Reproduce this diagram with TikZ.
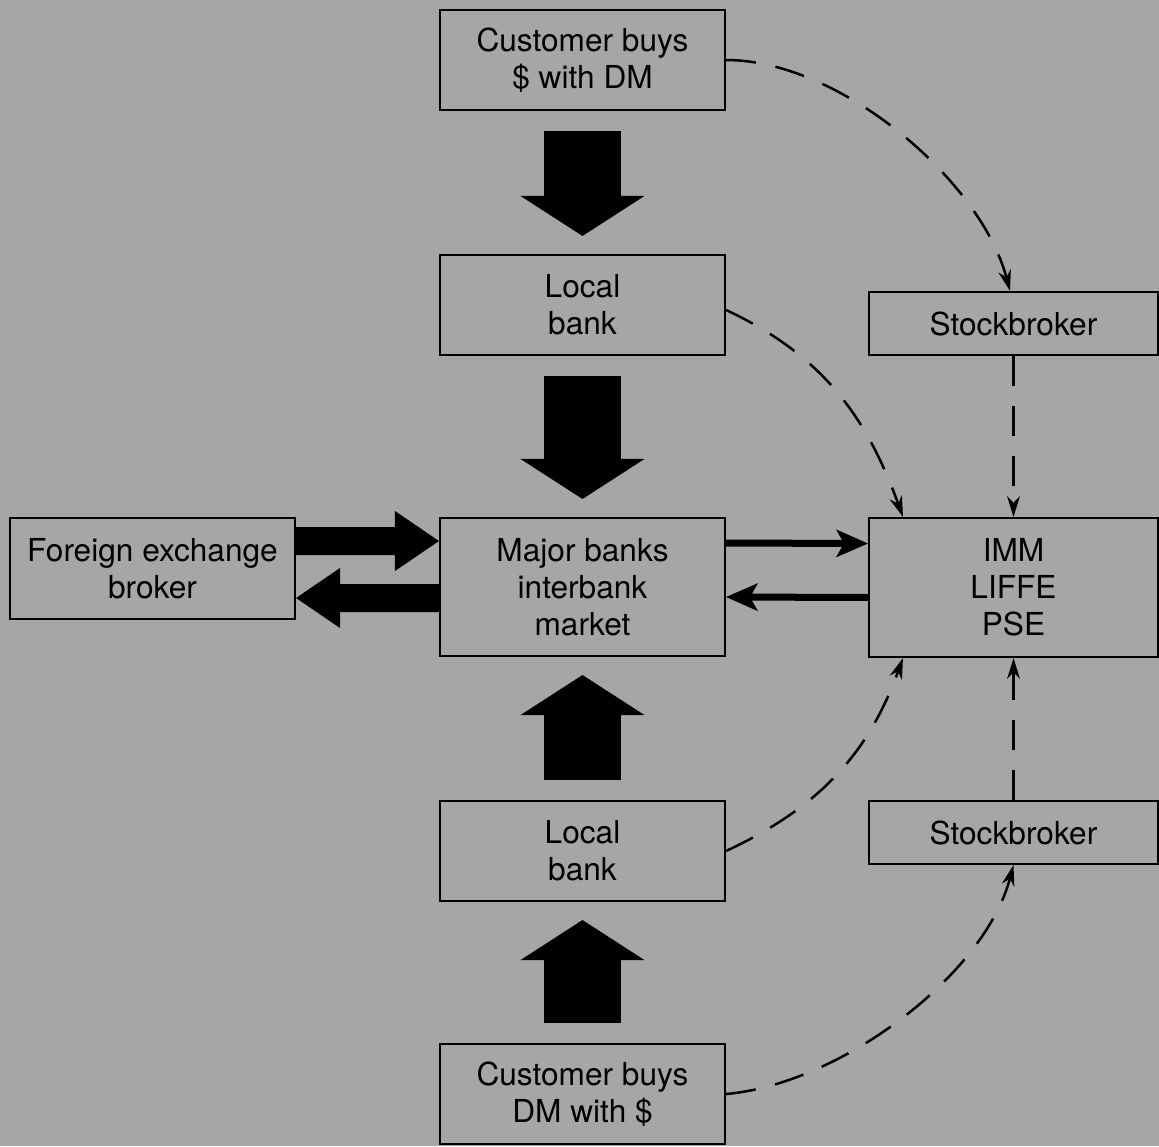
\documentclass[tikz,border=0pt]{standalone}
\usepackage{fontspec}
\setmainfont{TeX Gyre Heros}
\usepackage{tikz}
\usetikzlibrary{arrows.meta}

\begin{document}
\begin{tikzpicture}[
  x=0.02cm, y=-0.02cm,
  every node/.style={font=\fontsize{18}{21}\selectfont},
  box/.style={
    rectangle, draw, line width=1.2pt,
    align=center, inner sep=0pt,
    minimum width=5.7cm, minimum height=2cm
  },
  flatbox/.style={box, minimum width=5.78cm, minimum height=1.26cm},
  tallbox/.style={box, minimum height=2.76cm},
  fatarrow/.style={line width=1.54cm,
    -{Triangle[width=2.48cm, length=0.8cm, line width=0pt]},
    shorten <=0.4cm, shorten >=0.36cm},
  sidearrow/.style={line width=0.56cm,
    -{Triangle[width=1.2cm, length=0.88cm, line width=0pt]}},
  thinarrow/.style={line width=0.14cm,
    -{Stealth[width=0.56cm, length=0.64cm, inset=0.16cm, line width=0pt]}},
  feed/.style={line width=0.05cm, dash pattern=on 0.6cm off 0.4cm,
    -{Stealth[width=0.26cm, length=0.42cm, line width=0pt]}}
]
\path[use as bounding box, fill=black!35] (0,0) rectangle (1159,1146);

% middle column
\node[box] (cust1) at (582.5,60) {Customer buys\\ \$ with DM};
\node[box] (local1) at (582.5,305) {Local\\ bank};
\node[tallbox] (major) at (582.5,587) {Major banks\\ interbank\\ market};
\node[box] (local2) at (582.5,851) {Local\\ bank};
\node[box] (cust2) at (582.5,1094) {Customer buys\\ DM with \$};

% sides
\node[box, minimum height=2.02cm] (fxb) at (152.5,568.5) {Foreign exchange\\ broker};
\node[flatbox] (sb1) at (1013.5,323.5) {Stockbroker};
\node[box, minimum width=5.78cm, minimum height=2.78cm] (imm) at (1013.5,587.5) {IMM\\ LIFFE\\ PSE};
\node[flatbox] (sb2) at (1013.5,832.5) {Stockbroker};

\draw[fatarrow] (cust1) -- (local1);
\draw[fatarrow] (local1) -- (major);
\draw[fatarrow] (local2) -- (major);
\draw[fatarrow] (cust2) -- (local2);

\draw[sidearrow] ([yshift=0.55cm]fxb.east) -- ([yshift=0.92cm]major.west);
\draw[sidearrow] ([yshift=-0.22cm]major.west) -- ([yshift=-0.59cm]fxb.east);
\draw[thinarrow] ([yshift=0.88cm]major.east) -- ([yshift=0.88cm]imm.west);
\draw[thinarrow] ([yshift=-0.2cm]imm.west) -- ([yshift=-0.2cm]major.east);

\draw[feed] (cust1.east) to[out=0, in=105, looseness=0.8] ([xshift=-0.07cm]sb1.north);
\draw[feed] ([yshift=-0.1cm]local1.east) to[out=-25, in=110] ([xshift=0.7cm]imm.north west);
\draw[feed] (sb1) -- (imm);
\draw[feed] (sb2) -- (imm);
\draw[feed] (local2.east) to[out=25, in=-110] ([xshift=0.7cm]imm.south west);
\draw[feed] (cust2.east) to[out=5, in=-105, looseness=0.8] (sb2.south);
\end{tikzpicture}
\end{document}
